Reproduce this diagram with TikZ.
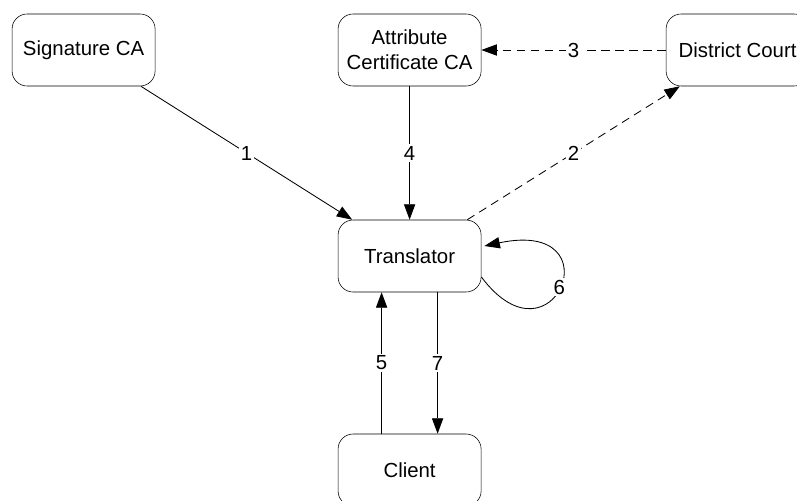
\documentclass[tikz,border=0pt]{standalone}
\usepackage{fontspec}
\setmainfont{Liberation Sans}
\usepackage{tikz}
\usetikzlibrary{arrows.meta}

\begin{document}
\begin{tikzpicture}[
    node distance=8.15cm,
    font=\fontsize{14.5}{17.5}\selectfont,
    box/.style={rectangle, draw, rounded corners=0.375cm, minimum width=3.575cm, minimum height=1.8cm, align=center, inner sep=1pt},
    arrow/.style={-{Triangle[length=11pt,width=8pt]}, line width=0.6pt},
    dasharrow/.style={arrow, dash pattern=on 6pt off 4pt},
    num/.style={fill=white, inner sep=1.5pt}
]
\useasboundingbox (0,0) rectangle (19.925,-12.5);

\node[box] at (2.09,-1.25) (sig) {Signature CA};
\node[box, right of=sig] (attr) {Attribute\\Certificate CA};
\node[box, right of=attr, xshift=0.05cm] (court) {District Court};
\node[box, below of=attr, yshift=3cm] (trans) {Translator};
\node[box, below of=trans, yshift=2.8cm] (client) {Client};

\draw[arrow] (sig) -- node[num] {1} (trans);
\draw[arrow] (attr) -- node[num] {4} (trans);
\draw[dasharrow] (trans) -- node[num] {2} (court);
\draw[dasharrow] (court) -- node[num] {3} (attr);
\draw[arrow] ([yshift=-0.525cm]trans.east) .. controls +(1.8,-2.4) and +(3.3,0.7) .. node[num] {6} ([xshift=0.075cm, yshift=0.25cm]trans.east);
\draw[arrow] ([xshift=-0.7cm]client.north) -- node[num] {5} ([xshift=-0.7cm]trans.south);
\draw[arrow] ([xshift=0.7cm]trans.south) -- node[num] {7} ([xshift=0.7cm]client.north);
\end{tikzpicture}
\end{document}
